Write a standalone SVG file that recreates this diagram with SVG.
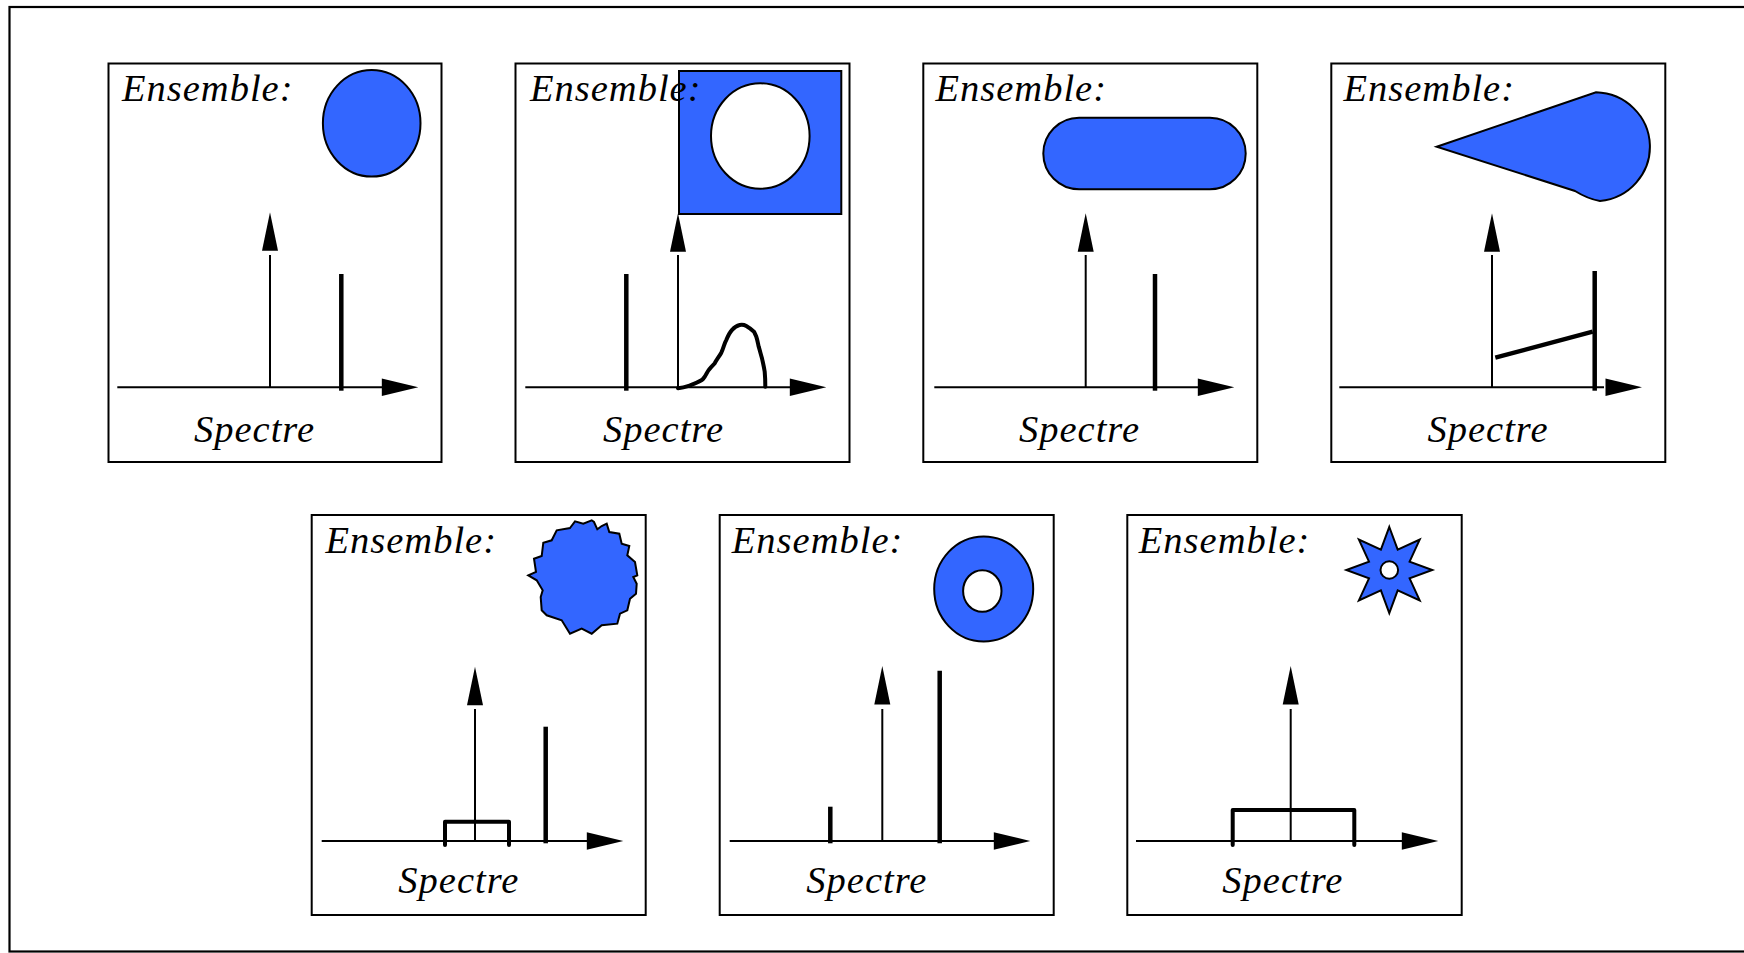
<svg xmlns="http://www.w3.org/2000/svg" width="1744" height="953" viewBox="0 0 1744 953">
  <style>
    .frame { fill: none; stroke: #000; stroke-width: 2.2; }
    .panel { fill: #fff; stroke: #000; stroke-width: 2; }
    .lbl { font-family: "Liberation Serif", "Times New Roman", serif; font-style: italic; font-size: 38.5px; letter-spacing: 1px; fill: #000; }
    .axis { stroke: #000; stroke-width: 2; fill: none; }
    .spike { stroke: #000; stroke-width: 4.5; fill: none; }
    .thick { stroke: #000; stroke-width: 4; fill: none; stroke-linejoin: round; stroke-linecap: round; }
    .shape { fill: #3366ff; stroke: #000; stroke-width: 2; }
    .hole { fill: #fff; stroke: #000; stroke-width: 2; }
    .head { fill: #000; }
  </style>
  <defs>
    <!-- arrowheads, tip at the origin -->
    <polygon id="up" class="head" points="0,0 -8,38.5 8,38.5"/>
    <polygon id="right" class="head" points="0,0 -36.5,-8.8 -36.5,8.8"/>
  </defs>

  <rect width="1744" height="953" fill="#fff"/>
  <rect class="frame" x="9.5" y="7" width="1745" height="944.5"/>

  <!-- row 1 -->
  <g id="panel-disque">
    <rect class="panel" x="108.5" y="63.5" width="333" height="398.5"/>
    <text class="lbl" x="122" y="100.5">Ensemble:</text>
    <ellipse class="shape" cx="371.7" cy="123.3" rx="48.8" ry="53.3"/>
    <line class="axis" x1="117.3" y1="387.3" x2="382" y2="387.3"/>
    <use href="#right" x="418.3" y="387.3"/>
    <line class="axis" x1="270" y1="388" x2="270" y2="255"/>
    <use href="#up" x="270" y="212.3"/>
    <line class="spike" x1="341.3" y1="274" x2="341.3" y2="390.7"/>
    <text class="lbl" x="194" y="441.7">Spectre</text>
  </g>

  <g id="panel-trou">
    <rect class="panel" x="515.5" y="63.5" width="334" height="398.5"/>
    <rect class="shape" x="679" y="71" width="162.3" height="143"/>
    <ellipse class="hole" cx="760.3" cy="136" rx="49.3" ry="52.7"/>
    <text class="lbl" x="530" y="100.5">Ensemble:</text>
    <line class="axis" x1="525.3" y1="387.3" x2="791" y2="387.3"/>
    <use href="#right" x="826.3" y="387.3"/>
    <line class="axis" x1="678" y1="388" x2="678" y2="255"/>
    <use href="#up" x="678" y="213.3"/>
    <line class="spike" x1="626.3" y1="274" x2="626.3" y2="390.7"/>
    <path class="thick" d="M678,388.3 C684,387.5 688,386 691.3,385 C696,383 701,381 703,379 C706,376 707,372 708.7,370 C711,367 713,365 714.7,363.3 C717,359 719.5,356 721.3,352.7 C723.5,348 724.5,343 726.3,340 C728,336 730,332 732,330 C734.5,327 737,325.5 739.7,325 C742,324.6 744.5,325 746.3,326 C749,327.5 752,330 754,331.7 L756.3,336.7 C757.5,340 758,344 758.7,346.7 C760,351 761,355 762,358.3 C763,363 764,367 764.7,371.7 C765.2,377 765.3,382 765.3,386.7"/>
    <text class="lbl" x="603" y="441.7">Spectre</text>
  </g>

  <g id="panel-baton">
    <rect class="panel" x="923.3" y="63.5" width="334" height="398.5"/>
    <text class="lbl" x="935.5" y="100.5">Ensemble:</text>
    <rect class="shape" x="1043.3" y="117.7" width="202.4" height="71.6" rx="35.8" ry="35.8"/>
    <line class="axis" x1="934.3" y1="387.3" x2="1199" y2="387.3"/>
    <use href="#right" x="1234.3" y="387.3"/>
    <line class="axis" x1="1085.7" y1="388" x2="1085.7" y2="255"/>
    <use href="#up" x="1085.7" y="213.3"/>
    <line class="spike" x1="1155" y1="274" x2="1155" y2="390.7"/>
    <text class="lbl" x="1019" y="441.7">Spectre</text>
  </g>

  <g id="panel-goutte">
    <rect class="panel" x="1331.3" y="63.5" width="334" height="398.5"/>
    <text class="lbl" x="1343.5" y="100.5">Ensemble:</text>
    <path class="shape" d="M1436.7,146.7 L1596,92.3 A55.5,54.5 0 0 1 1600,201 Q1588,199 1575,191 Z"/>
    <line class="axis" x1="1339.3" y1="387.3" x2="1604" y2="387.3"/>
    <use href="#right" x="1642" y="387.3"/>
    <line class="axis" x1="1492" y1="388" x2="1492" y2="255"/>
    <use href="#up" x="1492" y="213.3"/>
    <line class="spike" x1="1594.7" y1="271" x2="1594.7" y2="390.7"/>
    <line class="spike" x1="1495.3" y1="357.7" x2="1592.7" y2="331.7"/>
    <text class="lbl" x="1427.5" y="441.7">Spectre</text>
  </g>

  <!-- row 2 -->
  <g id="panel-dentele">
    <rect class="panel" x="311.7" y="515" width="334" height="400"/>
    <text class="lbl" x="325.5" y="553">Ensemble:</text>
    <polygon class="shape" points="570,528 575,521.3 583.3,523.7 591.7,520.3 594,522 597.3,529.3 601.7,526 606.7,523.7 609.3,532 619.3,533.7 621.7,543.7 629.3,546 627.3,555.3 635,562 637.3,575.3 633.3,577 636.7,583.7 636,593.7 630,598.7 627.3,610.3 620,613.7 617.3,623.7 601.7,625.3 591.7,633.7 581.7,628.7 570,633.7 561.7,620.3 546.7,615.3 541.7,610.3 540.7,597 542.7,590.3 536.7,580.3 528.3,575.3 536,572 534,558.7 541.7,556 543.3,542.7 551.7,540.3 556.7,530.3"/>
    <line class="axis" x1="321.7" y1="841" x2="587" y2="841"/>
    <use href="#right" x="623.3" y="841"/>
    <line class="axis" x1="475" y1="841" x2="475" y2="709"/>
    <use href="#up" x="475" y="666.7"/>
    <path class="thick" d="M445,845 L445,821.7 L509,821.7 L509,845"/>
    <line class="spike" x1="545.7" y1="726.7" x2="545.7" y2="843.3"/>
    <text class="lbl" x="398.3" y="893.3">Spectre</text>
  </g>

  <g id="panel-anneau">
    <rect class="panel" x="719.7" y="515" width="334" height="400"/>
    <text class="lbl" x="731.8" y="553">Ensemble:</text>
    <ellipse class="shape" cx="983.7" cy="589" rx="49.5" ry="52.5"/>
    <ellipse class="hole" cx="982.3" cy="591" rx="19.2" ry="20.8"/>
    <line class="axis" x1="729.7" y1="841" x2="995" y2="841"/>
    <use href="#right" x="1030.3" y="841"/>
    <line class="axis" x1="882.3" y1="841" x2="882.3" y2="709"/>
    <use href="#up" x="882.3" y="666"/>
    <line class="spike" x1="830.3" y1="806.7" x2="830.3" y2="843.3"/>
    <line class="spike" x1="939.7" y1="670.7" x2="939.7" y2="843.3"/>
    <text class="lbl" x="806.3" y="893.3">Spectre</text>
  </g>

  <g id="panel-etoile">
    <rect class="panel" x="1127.3" y="515" width="334.4" height="400"/>
    <text class="lbl" x="1138.8" y="553">Ensemble:</text>
    <polygon class="shape" points="1389.3,527 1397.7,549.7 1419.7,539.6 1409.6,561.6 1432.3,570 1409.6,578.4 1419.7,600.4 1397.7,590.3 1389.3,613 1380.9,590.3 1358.9,600.4 1369,578.4 1346.3,570 1369,561.6 1358.9,539.6 1380.9,549.7"/>
    <ellipse class="hole" cx="1389.3" cy="570" rx="8.8" ry="8.7"/>
    <line class="axis" x1="1136" y1="841" x2="1403" y2="841"/>
    <use href="#right" x="1438.3" y="841"/>
    <line class="axis" x1="1290.7" y1="841" x2="1290.7" y2="709"/>
    <use href="#up" x="1290.7" y="666"/>
    <path class="thick" d="M1232.7,845 L1232.7,810 L1354.3,810 L1354.3,845"/>
    <text class="lbl" x="1222.3" y="893.3">Spectre</text>
  </g>
</svg>
